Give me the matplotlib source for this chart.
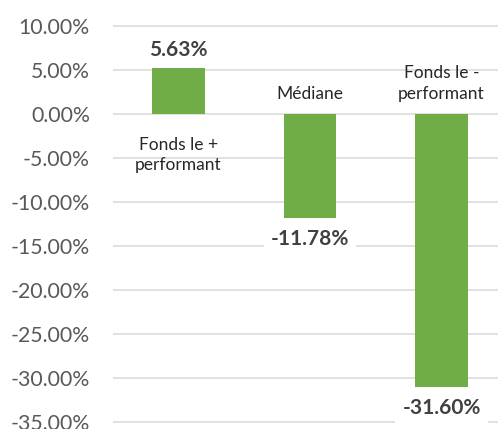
import matplotlib
matplotlib.use("Agg")
import matplotlib.pyplot as plt
from matplotlib.ticker import FuncFormatter

categories = ["Fonds le +\nperformant", "Médiane", "Fonds le -\nperformant"]
values = [5.2, -11.8, -30.95]
value_labels = ["5.63%", "-11.78%", "-31.60%"]
yticks = [10, 5, 0, -5, -10, -15, -20, -25, -30, -35]

plt.rcParams['font.family'] = ['Lato', 'DejaVu Sans']

W, H = 498, 429
fig = plt.figure(figsize=(W / 100, H / 100), dpi=100)

# pixel geometry
px_per_pct = 8.81
y0 = 114.0
ylo, yhi = -35.5, 10.5
top_px = y0 - yhi * px_per_pct
bot_px = y0 - ylo * px_per_pct
left_px = 112.75
right_px = 507.25
ax = fig.add_axes([left_px / W, 1 - bot_px / H, (right_px - left_px) / W, (bot_px - top_px) / H])

x = list(range(len(categories)))
ax.bar(x, values, width=0.40, color="#70AD47", zorder=3)
ax.set_xlim(-0.5, 2.5)
ax.set_ylim(ylo, yhi)
ax.set_yticks(yticks)
ax.yaxis.set_major_formatter(FuncFormatter(lambda v, p: f"{v:.2f}%"))
ax.tick_params(axis='y', length=0, pad=16.5, labelsize=15.3, labelcolor="#595959")
ax.set_xticks([])
for s in ax.spines.values():
    s.set_visible(False)
ax.yaxis.grid(True, color="#D9D9D9", linewidth=1.1, zorder=0)
ax.set_axisbelow(True)

for xi, v, lab in zip(x, values, value_labels):
    off = 18 if v >= 0 else -21
    ax.annotate(lab, (xi, v), xytext=(0, off), textcoords='offset pixels',
                ha='center', va='center', fontsize=15, fontweight='bold',
                color="#404040", zorder=5,
                bbox=dict(facecolor='white', edgecolor='none', pad=5))

cat_offsets = [-41, 20, 30.5]
for xi, c, off in zip(x, categories, cat_offsets):
    ax.annotate(c, (xi, 0), xytext=(0, off), textcoords='offset pixels',
                ha='center', va='center', fontsize=12.5, color="#262626",
                linespacing=1.35, zorder=5)

fig.savefig("out.png", dpi=100)
